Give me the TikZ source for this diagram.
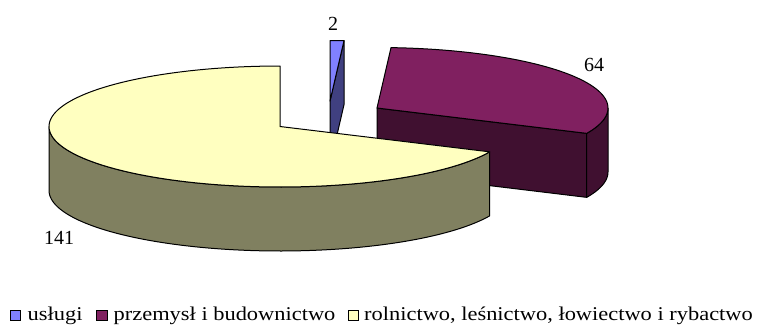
\documentclass[tikz,border=0pt]{standalone}
\usepackage{fontspec}
\setmainfont{Liberation Serif}
\newfontfamily\legfont[FakeStretch=1.15]{Liberation Serif}
\definecolor{blueTop}{HTML}{8080FF}
\definecolor{blueSide}{HTML}{404080}
\definecolor{plumTop}{HTML}{802060}
\definecolor{plumSide}{HTML}{401030}
\definecolor{ivoryTop}{HTML}{FFFFC0}
\definecolor{ivorySide}{HTML}{808060}
\begin{document}
\begin{tikzpicture}[x=1pt,y=-1pt,
  outline/.style={draw=black, line width=1pt, line join=round},
  lab/.style={font=\fontsize{20}{20}\selectfont, inner sep=0pt},
  legsq/.style={draw=black, line width=0.8pt, minimum size=10.5pt, inner sep=0pt},
  legtxt/.style={font=\legfont\fontsize{19.5}{19.5}\selectfont, inner sep=0pt, anchor=base west}]
\useasboundingbox (0,0) rectangle (760,325);
% ---- blue slice (uslugi), apex (330,101)
\path[outline, fill=blueSide] (330,101) -- ({330+231*sin(3.478)},{101-60.5*cos(3.478)})
  -- ++(0,64) -- (330,165) -- cycle;
\path[outline, fill=blueTop] (330,101) -- (330,40.5)
  -- plot[domain=0:3.478, samples=6, variable=\t] ({330+231*sin(\t)},{101-60.5*cos(\t)}) -- cycle;
% ---- plum slice (przemysl), apex (377,108)
\path[outline, fill=plumSide] (377,108) -- ({377+231*sin(114.78)},{108-60.5*cos(114.78)})
  -- ++(0,64) -- (377,172) -- cycle;
\path[outline, fill=plumSide]
  plot[domain=90:114.78, samples=20, variable=\t] ({377+231*sin(\t)},{108-60.5*cos(\t)})
  -- plot[domain=114.78:90, samples=20, variable=\t] ({377+231*sin(\t)},{172-60.5*cos(\t)}) -- cycle;
\path[outline, fill=plumTop] (377,108)
  -- plot[domain=3.478:114.78, samples=60, variable=\t] ({377+231*sin(\t)},{108-60.5*cos(\t)}) -- cycle;
% ---- ivory slice (rolnictwo), apex (280,126.5)
\path[outline, fill=ivorySide]
  plot[domain=114.78:270, samples=80, variable=\t] ({280+231*sin(\t)},{126.5-60.5*cos(\t)})
  -- plot[domain=270:114.78, samples=80, variable=\t] ({280+231*sin(\t)},{190.5-60.5*cos(\t)}) -- cycle;
\path[outline, fill=ivoryTop] (280,126.5)
  -- plot[domain=114.78:360, samples=120, variable=\t] ({280+231*sin(\t)},{126.5-60.5*cos(\t)}) -- cycle;
% ---- value labels
\node[lab] (v2) at (333,23.5) {2};
\node[lab] (v64) at (594,65) {64};
\node[lab] (v141) at (59,237.5) {141};
% ---- legend
\node[legsq, fill=blueTop] (sq1) at (15.3,315.5) {};
\node[legtxt] (t1) at (27.5,320) {usługi};
\node[legsq, fill=plumTop] (sq2) at (102,315.5) {};
\node[legtxt] (t2) at (113.5,320) {przemysł i budownictwo};
\node[legsq, fill=ivoryTop] (sq3) at (353.3,315.5) {};
\node[legtxt] (t3) at (364,320) {rolnictwo, leśnictwo, łowiectwo i rybactwo};
\end{tikzpicture}
\end{document}
